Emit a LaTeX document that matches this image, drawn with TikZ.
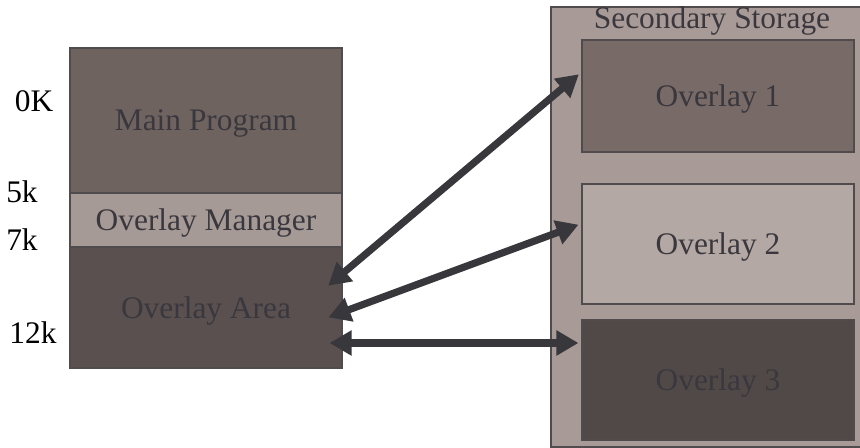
\documentclass[tikz,border=0pt]{standalone}
\usepackage{fontspec}
\setmainfont{Liberation Serif}
\usetikzlibrary{arrows.meta, positioning, calc}
\definecolor{maincolor}{RGB}{111,99,96}
\definecolor{managercolor}{RGB}{166,154,150}
\definecolor{areacolor}{RGB}{89,80,79}
\definecolor{storagecolor}{RGB}{168,154,150}
\definecolor{ovonecolor}{RGB}{120,106,102}
\definecolor{ovtwocolor}{RGB}{179,168,164}
\definecolor{ovthreecolor}{RGB}{81,73,72}
\definecolor{textcolor}{RGB}{58,56,62}
\definecolor{arrowcolor}{RGB}{56,55,60}
\definecolor{edgecolor}{RGB}{80,76,78}

\begin{document}
\begin{tikzpicture}[
    x=0.5pt, y=-0.5pt,
    every node/.style={font=\fontsize{15.7}{18}\selectfont},
    memblock/.style={draw=edgecolor, line width=0.6pt, inner sep=0pt, minimum width=136pt, text depth=0pt, text=textcolor},
    addr/.style={text=black},
    arrow/.style={{Triangle[length=11pt, width=12pt]}-{Triangle[length=11pt, width=12pt]}, line width=3.6pt, arrowcolor, shorten <=1pt, shorten >=1pt}
]
    \useasboundingbox (0,0) rectangle (860,448);

    % Memory side
    \node[memblock, fill=maincolor, minimum height=72.5pt] (main) at (206,120.5) {Main Program};
    \node[memblock, fill=managercolor, minimum height=27pt] (manager) at (206,220) {Overlay Manager};
    \node[memblock, fill=areacolor, minimum height=60.5pt] (area) at (206,307.5) {Overlay Area};

    % Addresses
    \node[addr] (k0) at (34,101) {0K};
    \node[addr] (k5) at (22,192) {5k};
    \node[addr] (k7) at (22,240) {7k};
    \node[addr] (k12) at (33,333) {12k};

    % Secondary storage side
    \node[draw=edgecolor, line width=0.6pt, fill=storagecolor, minimum width=156pt, minimum height=220pt] (storage) at (707,227) {};
    \node[text=textcolor, anchor=north, inner sep=0pt] (title) at (712,6) {Secondary Storage};
    \node[memblock, fill=ovonecolor, minimum height=56pt] (ov1) at (718,96) {Overlay 1};
    \node[memblock, fill=ovtwocolor, minimum height=60pt] (ov2) at (718,244) {Overlay 2};
    \node[memblock, fill=ovthreecolor, minimum height=60pt] (ov3) at (718,380) {Overlay 3};

    % Swapping arrows
    \draw[arrow] ($(area.east)+(-16,-20.5)$) -- ($(ov1.west)+(-1,-23)$);
    \draw[arrow] ($(area.east)+(-16,10.5)$) -- ($(ov2.west)+(-1,-20)$);
    \draw[arrow] ($(area.east)+(-15,35.5)$) -- ($(ov3.west)+(-1,-37)$);
\end{tikzpicture}
\end{document}
